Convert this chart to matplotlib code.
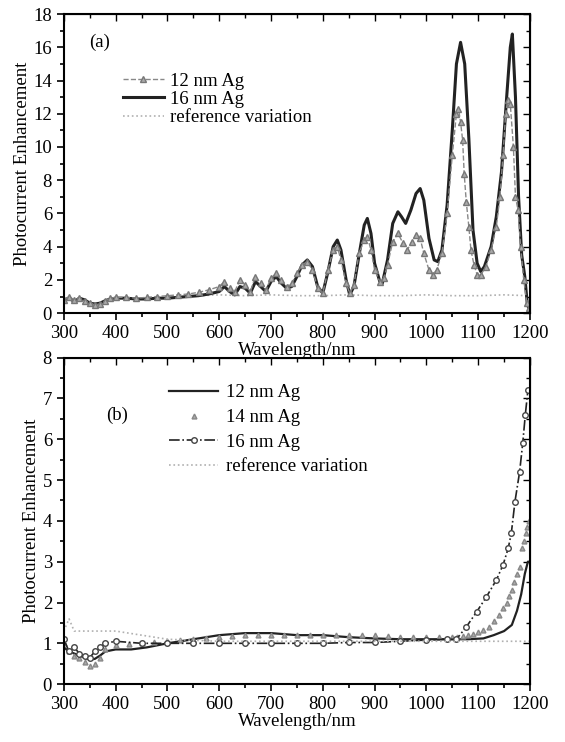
import matplotlib
matplotlib.use("Agg")
import matplotlib.pyplot as plt
from matplotlib.ticker import MultipleLocator

plt.rcParams['font.family'] = ['Liberation Serif', 'DejaVu Serif']
plt.rcParams['font.size'] = 13.5

# ---- panel (a) data ----
wl_a16 = [300, 310, 320, 330, 340, 350, 360, 370, 380, 390, 400, 420, 440, 460, 480, 500,
          520, 540, 560, 580, 600, 610, 620, 630, 640, 650, 660, 670, 680, 690, 700, 710,
          720, 730, 740, 750, 760, 770, 780, 790, 800, 810, 820, 828, 835, 845, 852, 860,
          870, 880, 886, 893, 900, 910, 915, 925, 935, 945, 952, 960, 970, 980, 988, 995,
          1005, 1015, 1022, 1030, 1040, 1050, 1058, 1066, 1074, 1082, 1090, 1098, 1105,
          1112, 1125, 1135, 1145, 1155, 1162, 1166, 1172, 1178, 1184, 1190, 1195, 1198]
pe_a16 = [0.8, 0.9, 0.7, 0.9, 0.8, 0.6, 0.55, 0.6, 0.75, 0.85, 0.9, 0.9, 0.85, 0.85, 0.9, 0.9,
          0.95, 1.0, 1.05, 1.15, 1.3, 1.6, 1.3, 1.1, 1.6, 1.5, 1.2, 1.9, 1.6, 1.3, 1.9, 2.2,
          1.8, 1.5, 1.6, 2.2, 2.9, 3.2, 2.8, 1.6, 1.2, 2.5, 4.0, 4.4, 3.8, 2.0, 1.1, 1.6,
          3.5, 5.3, 5.7, 4.8, 3.0, 1.9, 1.8, 3.2, 5.4, 6.1, 5.8, 5.4, 6.2, 7.2, 7.5, 6.8,
          4.5, 3.2, 3.1, 3.8, 6.5, 11.0, 15.0, 16.3, 15.0, 10.5, 5.0, 3.0, 2.5,
          2.8, 4.0, 5.8, 8.5, 13.0, 16.0, 16.8, 13.0, 7.0, 3.5, 2.2, 0.5, 0.3]

wl_a12 = [300, 310, 320, 330, 340, 350, 360, 370, 380, 390, 400, 420, 440, 460, 480, 500,
          520, 540, 560, 580, 600, 610, 620, 630, 640, 650, 660, 670, 680, 690, 700, 710,
          720, 730, 740, 750, 760, 770, 780, 790, 800, 810, 820, 828, 835, 845, 852, 860,
          870, 880, 886, 893, 900, 910, 918, 925, 935, 945, 955, 963, 972, 980, 988, 995,
          1005, 1012, 1020, 1030, 1040, 1050, 1058, 1062, 1066, 1070, 1073, 1077, 1082,
          1086, 1092, 1098, 1105, 1115, 1125, 1135, 1142, 1148, 1153, 1157, 1162, 1168,
          1172, 1177, 1182, 1188, 1194, 1198]
pe_a12 = [0.8, 1.0, 0.8, 0.9, 0.75, 0.6, 0.5, 0.55, 0.75, 0.9, 0.95, 0.95, 0.9, 0.95, 1.0, 1.05,
          1.1, 1.15, 1.25, 1.4, 1.6, 1.9, 1.5, 1.3, 2.0, 1.7, 1.3, 2.2, 1.8, 1.4, 2.1, 2.4,
          2.0, 1.6, 1.8, 2.4, 2.9, 3.1, 2.6, 1.5, 1.2, 2.6, 3.8, 4.0, 3.2, 1.8, 1.2, 1.7,
          3.6, 4.4, 4.6, 3.8, 2.6, 1.9, 2.1, 2.9, 4.3, 4.8, 4.2, 3.8, 4.3, 4.7, 4.5, 3.6,
          2.6, 2.3, 2.6, 3.6, 6.0, 9.5, 12.0, 12.3, 11.5, 10.4, 8.4, 6.7, 5.2,
          3.8, 2.9, 2.3, 2.3, 2.8, 3.8, 5.2, 7.0, 9.5, 12.0, 12.8, 12.6, 10.0,
          7.0, 6.2, 4.0, 2.0, 0.6, 0.3]

wl_aref = [560, 600, 650, 700, 750, 800, 850, 900, 950, 1000, 1050, 1100, 1150, 1195]
pe_aref = [1.05, 1.1, 1.05, 1.1, 1.05, 1.05, 1.1, 1.05, 1.05, 1.1, 1.05, 1.05, 1.1, 1.05]

# ---- panel (b) data ----
wl_b12 = [300, 310, 320, 330, 340, 350, 360, 370, 380, 400, 430, 460, 500, 550, 600, 650,
          700, 750, 800, 850, 900, 950, 1000, 1050, 1080, 1110, 1130, 1150, 1165, 1175,
          1183, 1190, 1196, 1200]
pe_b12 = [0.9, 0.8, 0.75, 0.7, 0.65, 0.6, 0.62, 0.7, 0.8, 0.85, 0.85, 0.9, 1.0, 1.1, 1.2, 1.25,
          1.25, 1.2, 1.2, 1.15, 1.12, 1.1, 1.1, 1.1, 1.1, 1.12, 1.2, 1.3, 1.45, 1.8,
          2.2, 2.7, 3.0, 3.0]

wl_b14 = [300, 310, 320, 330, 340, 350, 360, 370, 380, 400, 425, 450, 475, 500, 525, 550,
          575, 600, 625, 650, 675, 700, 725, 750, 775, 800, 825, 850, 875, 900, 925, 950,
          975, 1000, 1025, 1050, 1060, 1070, 1080, 1090, 1100, 1110, 1120, 1130, 1140,
          1148, 1155, 1160, 1165, 1170, 1175, 1180, 1184, 1188, 1192, 1195, 1198]
pe_b14 = [1.0, 0.8, 0.7, 0.65, 0.55, 0.45, 0.5, 0.65, 0.85, 0.95, 0.98, 1.0, 1.02, 1.05, 1.08, 1.1,
          1.12, 1.15, 1.18, 1.2, 1.2, 1.2, 1.2, 1.2, 1.2, 1.2, 1.2, 1.2, 1.2, 1.2, 1.18, 1.15,
          1.15, 1.15, 1.15, 1.15, 1.15, 1.18, 1.2, 1.22, 1.28, 1.33, 1.4, 1.55, 1.7,
          1.86, 2.0, 2.15, 2.3, 2.5, 2.7, 2.88, 3.33, 3.5, 3.7, 3.85, 4.0]

wl_b16 = [300, 310, 320, 330, 340, 350, 360, 370, 380, 400, 450, 500, 550, 600, 650, 700,
          750, 800, 850, 900, 950, 1000, 1040, 1058, 1077, 1097, 1116, 1135, 1148, 1158,
          1164, 1171, 1180, 1186, 1191, 1196]
pe_b16 = [1.1, 0.8, 0.9, 0.75, 0.7, 0.65, 0.8, 0.9, 1.0, 1.05, 1.0, 1.0, 1.0, 1.0, 1.0, 1.0,
          1.0, 1.0, 1.02, 1.02, 1.05, 1.08, 1.1, 1.1, 1.4, 1.77, 2.14, 2.55, 2.92, 3.33,
          3.7, 4.47, 5.2, 5.9, 6.6, 7.2]

wl_bref = [300, 310, 320, 350, 400, 450, 500, 600, 700, 800, 900, 1000, 1100, 1200]
pe_bref = [1.3, 1.6, 1.3, 1.3, 1.3, 1.2, 1.1, 1.05, 1.05, 1.05, 1.05, 1.05, 1.05, 1.05]

fig = plt.figure(figsize=(5.65, 7.42), dpi=100)
ax1 = fig.add_axes([0.113, 0.578, 0.825, 0.403])
ax2 = fig.add_axes([0.113, 0.078, 0.825, 0.440])

# (a)
ax1.plot(wl_aref, pe_aref, ':', color='#b0b0b0', lw=1.2, label='reference variation')
ax1.plot(wl_a16, pe_a16, '-', color='#222222', lw=2.2, label='16 nm Ag')
ax1.plot(wl_a12, pe_a12, '--', color='#888888', lw=1.0, marker='^', ms=4,
         mfc='#aaaaaa', mec='#777777', label='12 nm Ag')
h, l = ax1.get_legend_handles_labels()
ax1.legend([h[2], h[1], h[0]], [l[2], l[1], l[0]], loc='upper left',
           bbox_to_anchor=(0.09, 0.86), frameon=False, handlelength=2.2,
           handletextpad=0.3, labelspacing=0.05)
ax1.set_ylim(0, 18)
ax1.yaxis.set_major_locator(MultipleLocator(2))
ax1.yaxis.set_minor_locator(MultipleLocator(1))
ax1.text(0.055, 0.89, '(a)', transform=ax1.transAxes)

# (b)
ax2.plot(wl_b12, pe_b12, '-', color='#222222', lw=1.6, label='12 nm Ag')
ax2.plot(wl_b14, pe_b14, linestyle='none', color='#888888', marker='^', ms=3.5,
         mfc='#aaaaaa', mec='#888888', label='14 nm Ag')
ax2.plot(wl_b16, pe_b16, '-.', color='#222222', lw=1.2, marker='o', ms=4,
         mfc='white', mec='#444444', label='16 nm Ag')
ax2.plot(wl_bref, pe_bref, ':', color='#b0b0b0', lw=1.2, label='reference variation')
ax2.legend(loc='upper left', bbox_to_anchor=(0.19, 0.97), frameon=False,
           handlelength=2.6, handletextpad=0.4, labelspacing=0.4)
ax2.set_ylim(0, 8)
ax2.yaxis.set_major_locator(MultipleLocator(1))
ax2.yaxis.set_minor_locator(MultipleLocator(0.5))
ax2.text(0.09, 0.81, '(b)', transform=ax2.transAxes)

for ax in (ax1, ax2):
    ax.set_xlim(300, 1200)
    ax.xaxis.set_major_locator(MultipleLocator(100))
    ax.xaxis.set_minor_locator(MultipleLocator(50))
    ax.set_xlabel('Wavelength/nm', labelpad=0)
    ax.set_ylabel('Photocurrent Enhancement', labelpad=2)
    ax.tick_params(which='both', direction='out', width=1.2)
    ax.tick_params(which='major', length=5)
    ax.tick_params(which='minor', length=3)
    for s in ax.spines.values():
        s.set_linewidth(1.5)
    top = ax.secondary_xaxis('top')
    top.xaxis.set_major_locator(MultipleLocator(100))
    top.xaxis.set_minor_locator(MultipleLocator(50))
    top.tick_params(which='both', direction='in', labeltop=False, width=1.0)
    top.tick_params(which='major', length=5)
    top.tick_params(which='minor', length=3)
    right = ax.secondary_yaxis('right')
    right.yaxis.set_major_locator(ax.yaxis.get_major_locator())
    right.yaxis.set_minor_locator(ax.yaxis.get_minor_locator())
    right.tick_params(which='both', direction='in', labelright=False, width=1.0)
    right.tick_params(which='major', length=5)
    right.tick_params(which='minor', length=3)

fig.savefig('out.png', dpi=100)
